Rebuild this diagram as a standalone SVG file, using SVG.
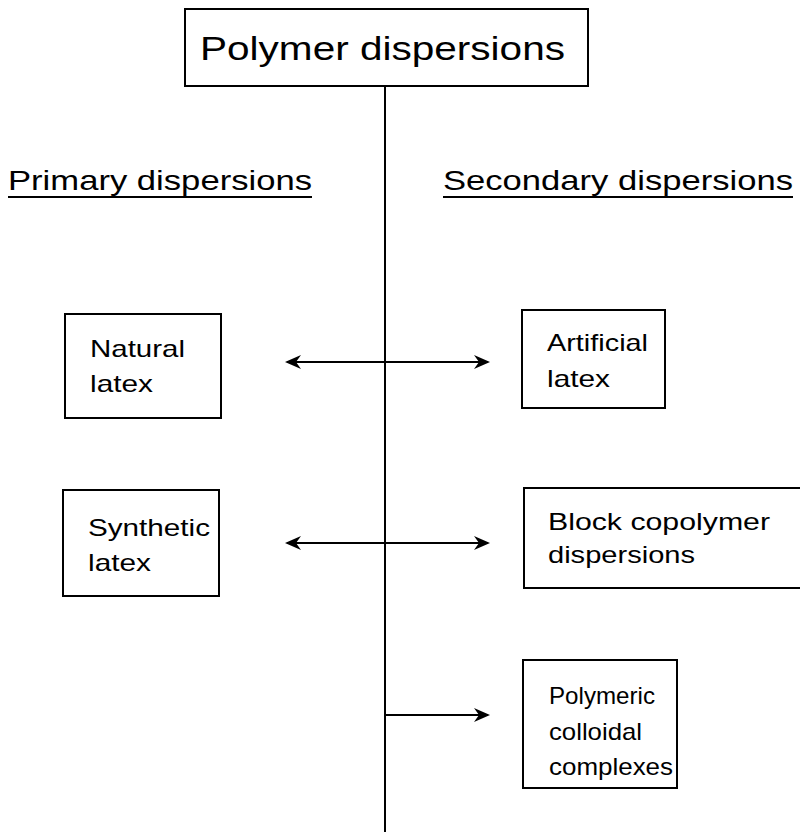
<svg xmlns="http://www.w3.org/2000/svg" width="800" height="835" viewBox="0 0 800 835">
<style>
.box{fill:#fff;stroke:#000;stroke-width:2}
.t{font-family:"Liberation Sans",Arial,sans-serif;fill:#000}
.n{font-size:24px}
.h{font-size:28px}
.ln{stroke:#000;stroke-width:2;fill:none}
</style>
<defs>
<marker id="ah" markerWidth="16" markerHeight="14" refX="14" refY="7" orient="auto-start-reverse" markerUnits="userSpaceOnUse">
<path d="M0,0 L16,7 L0,14 L5,7 Z" fill="#000"/>
</marker>
</defs>
<g id="connectors">
<line class="ln" x1="385" y1="86" x2="385" y2="832" stroke-width="3"/>
<line class="ln" x1="287" y1="362" x2="488" y2="362" marker-start="url(#ah)" marker-end="url(#ah)"/>
<line class="ln" x1="287" y1="543" x2="488" y2="543" marker-start="url(#ah)" marker-end="url(#ah)"/>
<line class="ln" x1="385" y1="715" x2="488" y2="715" marker-end="url(#ah)"/>
</g>
<g id="root">
<rect class="box" x="185" y="9" width="403" height="77"/>
<text class="t" x="200" y="60" font-size="33" textLength="365" lengthAdjust="spacingAndGlyphs">Polymer dispersions</text>
</g>
<g id="primary">
<text class="t h" x="8" y="190" textLength="304" lengthAdjust="spacingAndGlyphs">Primary dispersions</text>
<line class="ln" x1="8" y1="197" x2="312" y2="197"/>
</g>
<g id="secondary">
<text class="t h" x="443" y="190" textLength="350" lengthAdjust="spacingAndGlyphs">Secondary dispersions</text>
<line class="ln" x1="443" y1="197" x2="793" y2="197"/>
</g>
<g id="natural">
<rect class="box" x="65" y="314" width="156" height="104"/>
<text class="t n" x="90" y="357" textLength="95" lengthAdjust="spacingAndGlyphs">Natural</text>
<text class="t n" x="90" y="392" textLength="63" lengthAdjust="spacingAndGlyphs">latex</text>
</g>
<g id="artificial">
<rect class="box" x="522" y="310" width="143" height="98"/>
<text class="t n" x="547" y="351" textLength="101" lengthAdjust="spacingAndGlyphs">Artificial</text>
<text class="t n" x="547" y="387" textLength="63" lengthAdjust="spacingAndGlyphs">latex</text>
</g>
<g id="synthetic">
<rect class="box" x="63" y="490" width="156" height="106"/>
<text class="t n" x="88" y="536" textLength="122" lengthAdjust="spacingAndGlyphs">Synthetic</text>
<text class="t n" x="88" y="571" textLength="63" lengthAdjust="spacingAndGlyphs">latex</text>
</g>
<g id="block">
<rect class="box" x="524" y="488" width="285" height="100"/>
<text class="t n" x="548" y="530" textLength="222" lengthAdjust="spacingAndGlyphs">Block copolymer</text>
<text class="t n" x="548" y="563" textLength="147" lengthAdjust="spacingAndGlyphs">dispersions</text>
</g>
<g id="complexes">
<rect class="box" x="523" y="660" width="154" height="128"/>
<text class="t n" x="549" y="704" textLength="106" lengthAdjust="spacingAndGlyphs">Polymeric</text>
<text class="t n" x="549" y="740" textLength="93" lengthAdjust="spacingAndGlyphs">colloidal</text>
<text class="t n" x="549" y="775" textLength="124" lengthAdjust="spacingAndGlyphs">complexes</text>
</g>
</svg>
